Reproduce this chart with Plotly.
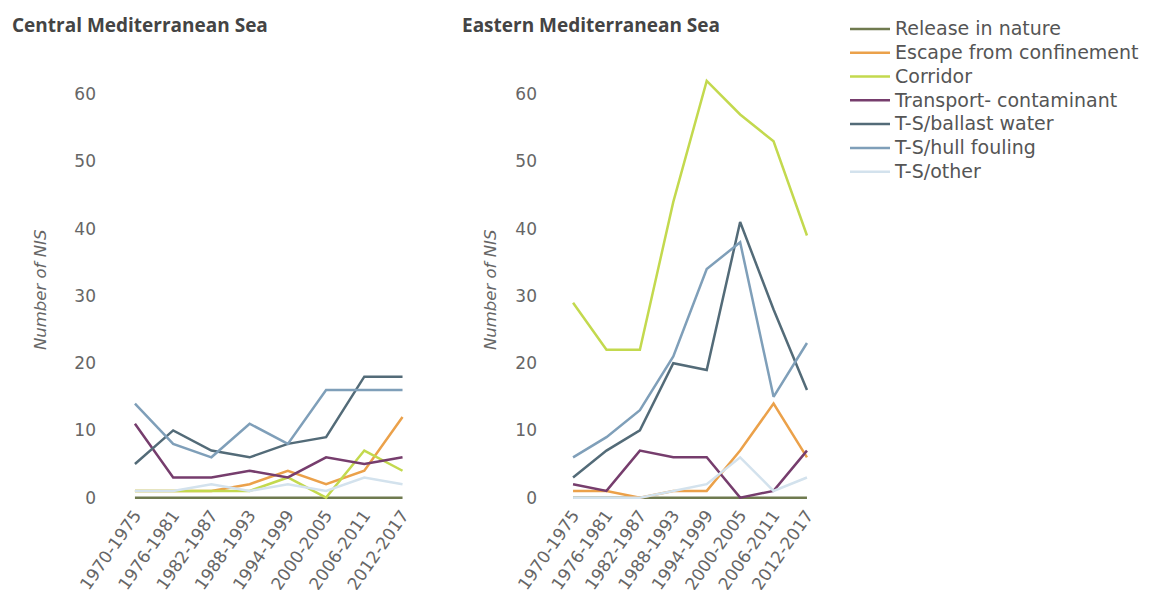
import plotly.graph_objects as go

categories = ["1970-1975", "1976-1981", "1982-1987", "1988-1993",
              "1994-1999", "2000-2005", "2006-2011", "2012-2017"]

series_names = ["Release in nature", "Escape from confinement", "Corridor",
                "Transport- contaminant", "T-S/ballast water", "T-S/hull fouling",
                "T-S/other"]

central_release = [0, 0, 0, 0, 0, 0, 0, 0]
central_escape = [1, 1, 1, 2, 4, 2, 4, 12]
central_corridor = [1, 1, 1, 1, 3, 0, 7, 4]
central_transport = [11, 3, 3, 4, 3, 6, 5, 6]
central_ballast = [5, 10, 7, 6, 8, 9, 18, 18]
central_hull = [14, 8, 6, 11, 8, 16, 16, 16]
central_other = [1, 1, 2, 1, 2, 1, 3, 2]

eastern_release = [0, 0, 0, 0, 0, 0, 0, 0]
eastern_escape = [1, 1, 0, 1, 1, 7, 14, 6]
eastern_corridor = [29, 22, 22, 44, 62, 57, 53, 39]
eastern_transport = [2, 1, 7, 6, 6, 0, 1, 7]
eastern_ballast = [3, 7, 10, 20, 19, 41, 28, 16]
eastern_hull = [6, 9, 13, 21, 34, 38, 15, 23]
eastern_other = [0, 0, 0, 1, 2, 6, 1, 3]

y_ticks = [0, 10, 20, 30, 40, 50, 60]

colors = ["#6f7a4f", "#eba14a", "#c3d94e", "#763d6d", "#536b78", "#7f9fb9", "#d3e2ed"]

central = [central_release, central_escape, central_corridor, central_transport,
           central_ballast, central_hull, central_other]
eastern = [eastern_release, eastern_escape, eastern_corridor, eastern_transport,
           eastern_ballast, eastern_hull, eastern_other]

# page body has an 8px margin; figure sized to fit inside the window without overflow
OFF = 8
FW, FH = 1150 - 2 * OFF, 598 - 2 * OFF


def px(X):
    return (X - OFF) / FW


def py(Y):
    return 1 - (Y - OFF) / FH


fig = go.Figure()
for name, vals, col in zip(series_names, central, colors):
    fig.add_trace(go.Scatter(x=categories, y=vals,
                             name='<span style="font-size:19px">' + name + '</span>',
                             mode="lines",
                             line=dict(color=col, width=2.5), legendgroup=name,
                             xaxis="x", yaxis="y", showlegend=True))
for name, vals, col in zip(series_names, eastern, colors):
    fig.add_trace(go.Scatter(x=categories, y=vals, name=name, mode="lines",
                             line=dict(color=col, width=2.5), legendgroup=name,
                             xaxis="x2", yaxis="y2", showlegend=False))

tick_font = dict(family="DejaVu Sans", size=17, color="#666666")

xcommon = dict(type="category", range=[-0.6, 7.3], showgrid=False, zeroline=False,
               showline=False, tickangle=-55, tickfont=tick_font, ticks="",
               automargin=False)
ycommon = dict(range=[-0.5, 65], tickvals=y_ticks, showgrid=False, zeroline=False,
               showline=False, tickfont=tick_font, ticks="", ticklabelstandoff=15,
               automargin=False)

ydom = [py(501), py(60.7)]

fig.update_layout(
    width=FW, height=FH,
    margin=dict(l=0, r=0, t=0, b=0, autoexpand=False),
    paper_bgcolor="white", plot_bgcolor="white",
    xaxis=dict(domain=[px(112), px(414)], anchor="y", **xcommon),
    yaxis=dict(domain=ydom, anchor="x", **ycommon),
    xaxis2=dict(domain=[px(553), px(817)], anchor="y2", **xcommon),
    yaxis2=dict(domain=ydom, anchor="x2", **ycommon),
    legend=dict(x=px(845), y=py(12), xanchor="left", yanchor="top",
                font=dict(family="DejaVu Sans", size=16, color="#555555"),
                itemwidth=40, bgcolor="rgba(0,0,0,0)", tracegroupgap=0),
    showlegend=True,
)

title_font = dict(family="Open Sans", size=19, color="#444444")
fig.add_annotation(text="<b>Central Mediterranean Sea</b>", xref="paper", yref="paper",
                   x=px(10), y=py(25), xanchor="left", yanchor="middle",
                   showarrow=False, font=title_font)
fig.add_annotation(text="<b>Eastern Mediterranean Sea</b>", xref="paper", yref="paper",
                   x=px(460), y=py(25), xanchor="left", yanchor="middle",
                   showarrow=False, font=title_font)

axis_title_font = dict(family="DejaVu Sans", size=16.5, color="#666666")
for xpos in (40, 490):
    fig.add_annotation(text="<i>Number of NIS</i>", xref="paper", yref="paper",
                       x=px(xpos), y=py(290), xanchor="center", yanchor="middle",
                       textangle=-90, showarrow=False, font=axis_title_font)

fig.write_html("out.html")
